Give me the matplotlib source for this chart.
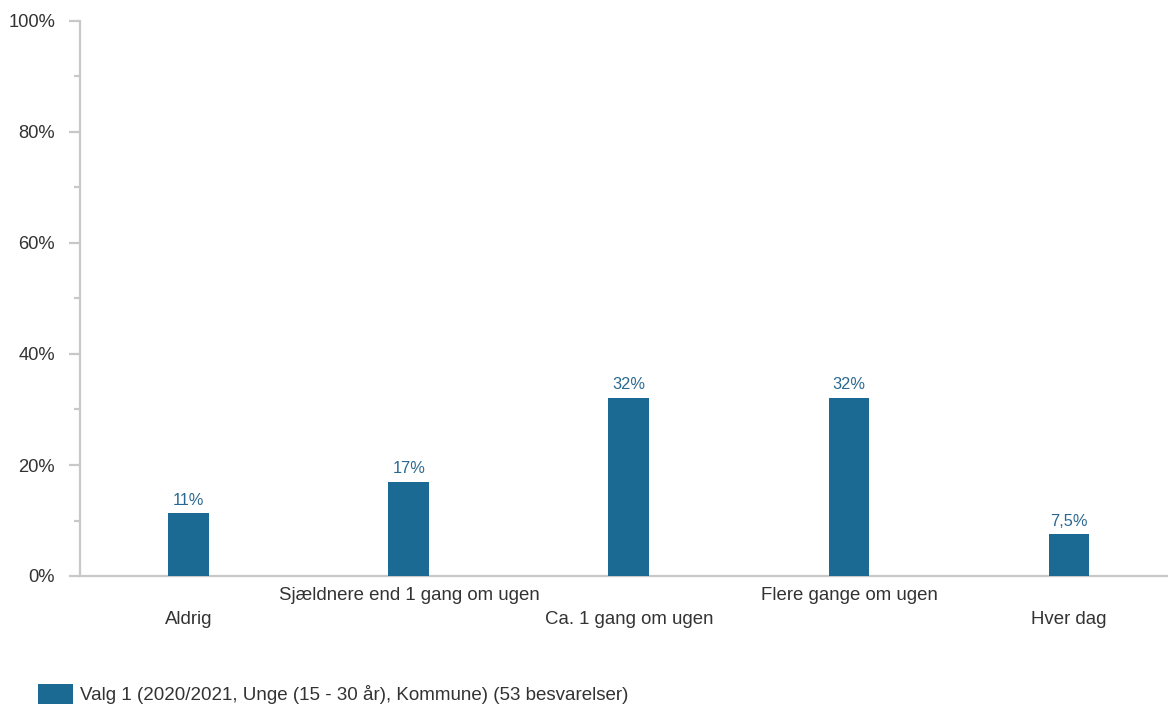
import matplotlib
matplotlib.use("Agg")
import matplotlib.pyplot as plt
from matplotlib.patches import Patch
from matplotlib.ticker import MultipleLocator, FuncFormatter

categories = ["Aldrig", "Sjældnere end 1 gang om ugen", "Ca. 1 gang om ugen",
              "Flere gange om ugen", "Hver dag"]
values = [11.32, 16.98, 32.08, 32.08, 7.55]
value_labels = ["11%", "17%", "32%", "32%", "7,5%"]
series_name = "Valg 1 (2020/2021, Unge (15 - 30 år), Kommune) (53 besvarelser)"

plt.rcParams['font.family'] = ['Liberation Sans', 'DejaVu Sans']

W, H = 1168, 706
fig = plt.figure(figsize=(W / 100, H / 100), dpi=100)
ax = fig.add_axes([80 / W, (H - 576) / H, (1168 - 80) / W, (576 - 21) / H])

bar_color = "#1a6a93"
axis_color = "#c8c8c8"
text_color = "#333333"

x = list(range(len(categories)))
bars = ax.bar(x, values, width=0.186, color=bar_color, zorder=3)
for xi, v, lab in zip(x, values, value_labels):
    ax.annotate(lab, (xi, v), xytext=(0, 4), textcoords="offset points",
                ha="center", va="bottom", fontsize=11.8, color="#2a6890")

ax.set_xlim(-0.495, 4.45)
ax.set_ylim(0, 100)

for side in ["top", "right"]:
    ax.spines[side].set_visible(False)
for side in ["left", "bottom"]:
    ax.spines[side].set_color(axis_color)
    ax.spines[side].set_linewidth(1.6)

ax.yaxis.set_major_locator(MultipleLocator(20))
ax.yaxis.set_minor_locator(MultipleLocator(10))
ax.yaxis.set_major_formatter(FuncFormatter(lambda v, p: f"{int(v)}%"))
ax.tick_params(axis="y", which="major", length=8, width=1.6, color=axis_color,
               labelsize=13.2, labelcolor=text_color, pad=10)
ax.tick_params(axis="y", which="minor", length=4, width=1.6, color=axis_color)

ax.set_xticks(x)
ax.set_xticklabels(categories)
ax.tick_params(axis="x", length=0, labelsize=13.4, labelcolor=text_color)
for i, t in enumerate(ax.xaxis.get_major_ticks()):
    t.set_pad(25.5 if i % 2 == 0 else 8)

handle = Patch(facecolor=bar_color, edgecolor="none")
fig.legend([handle], [series_name], loc="center left",
           bbox_to_anchor=(21 / W, 1 - 694 / H), frameon=False,
           fontsize=13.5, handlelength=1.87, handleheight=1.23, handletextpad=0.37,
           labelcolor=text_color)

fig.savefig("out.png", dpi=100)
